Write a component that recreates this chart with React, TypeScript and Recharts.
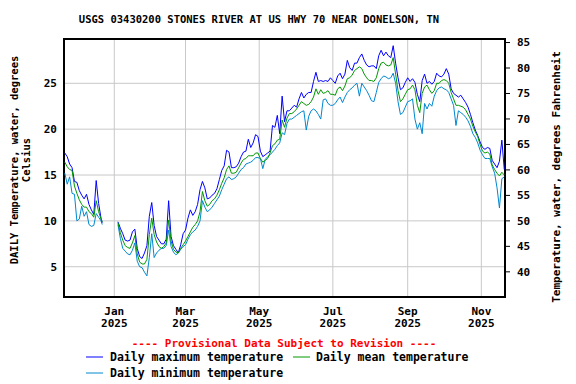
import React from 'react';
import { ComposedChart, Line, XAxis, YAxis, CartesianGrid, ReferenceArea } from 'recharts';

// day offsets from 2025-01-01 (negative = Nov/Dec 2024)
const days = [
  -41, -39, -37, -35, -33, -31, -29, -27, -25, -23, -21, -19, -17, -15, -13, -11, -10,
  -4,
  3, 5, 7, 9, 11, 13, 15, 17, 19, 21, 23, 25, 27, 29, 31, 33, 35, 37, 39, 41, 43, 45, 47, 49, 51, 53,
  55, 57, 59, 61, 63, 65, 67, 69, 71, 73, 75, 77, 79, 81, 83, 85, 87, 89, 91, 93, 95, 97, 99, 101, 103, 105,
  107, 109, 111, 113, 115, 117, 119, 121, 123, 125, 127, 129, 131, 133, 135, 137, 139, 141, 143, 145, 147, 149,
  151, 153, 155, 157, 159, 161, 163, 165, 167, 169, 171, 173, 175, 177, 179,
  181, 183, 185, 187, 189, 191, 193, 195, 197, 199, 201, 203, 205, 207, 209, 211, 213, 215, 217, 219, 221, 223,
  225, 227, 229, 231, 233, 235, 237, 239, 241, 243, 245, 247, 249, 251, 253,
  255, 257, 259, 261, 263, 265, 267, 269, 271, 273, 275, 277, 279, 281, 283, 285, 287, 289, 291, 293, 295, 297,
  299, 301, 303, 305, 307, 309, 311, 313, 315, 317, 319, 321, 323,
];

const maxT: (number | null)[] = [
  17.4, 17.0, 16.2, 15.8, 14.3, 14.2, 13.3, 12.8, 12.4, 12.9, 11.8, 11.2, 10.7, 14.4, 11.9, 10.3, 9.8,
  null,
  9.9, 9.2, 8.6, 7.9, 7.8, 7.9, 8.8, 9.1, 7.0, 6.1, 5.9, 6.5, 7.3, 10.5, 12.0, 9.5, 8.3, 7.9, 7.5, 7.5, 8.0, 12.2, 8.3, 7.3, 6.9, 6.5,
  7.4, 8.6, 9.0, 10.3, 11.2, 10.6, 11.0, 11.8, 13.4, 14.3, 13.6, 12.4, 12.5, 12.8, 13.0, 13.5, 14.5, 15.5, 16.0, 17.7, 17.5, 15.8, 15.8, 15.9, 16.3, 17.0,
  17.5, 17.6, 18.9, 18.0, 18.5, 19.4, 19.2, 17.6, 17.0, 17.2, 17.4, 17.6, 20.4, 20.2, 21.5, 19.5, 23.6, 20.8, 22.0, 22.0, 22.3, 22.6,
  22.4, 23.3, 24.0, 23.4, 23.8, 24.0, 24.0, 25.2, 26.2, 25.2, 25.3, 25.2, 25.3, 25.2, 25.6,
  25.3, 25.0, 25.8, 26.1, 25.5, 26.0, 27.5, 26.7, 26.4, 27.2, 27.2, 27.8, 28.2, 27.5, 27.0, 26.8, 26.9, 26.9, 26.6, 28.0, 28.6, 28.0,
  28.4, 28.0, 27.8, 29.1, 27.2, 25.6, 24.3, 24.5, 25.1, 25.6, 25.2, 25.5, 25.1, 23.8, 23.0,
  25.3, 26.0, 25.0, 25.2, 24.9, 25.2, 26.1, 25.8, 25.7, 26.0, 26.6, 26.0, 24.4, 23.9, 23.7, 23.5, 23.7, 23.3, 22.9, 22.4, 21.6, 20.7,
  19.9, 19.3, 18.6, 18.0, 17.8, 18.0, 17.9, 16.6, 16.2, 15.8, 16.5, 18.8, 15.6,
];

const meanT: (number | null)[] = [
  16.4, 15.9, 15.6, 15.5, 13.8, 13.0, 12.3, 11.8, 11.5, 11.5, 11.0, 10.8, 10.4, 12.2, 11.0, 10.2, 9.9,
  null,
  9.8, 8.7, 7.9, 7.3, 7.1, 7.0, 7.6, 8.4, 6.4, 5.5, 5.3, 5.3, 5.8, 8.5, 10.3, 8.5, 7.7, 7.2, 7.0, 7.2, 7.6, 10.1, 7.8, 6.9, 6.6, 6.5,
  7.0, 7.4, 7.8, 8.3, 8.8, 9.3, 9.6, 10.0, 11.0, 13.2, 12.2, 11.6, 11.8, 12.2, 12.4, 12.8, 13.4, 14.1, 14.7, 15.6, 16.0, 15.2, 15.2, 15.3, 15.8, 16.3,
  16.7, 16.8, 17.1, 17.1, 17.1, 17.4, 17.4, 16.8, 16.4, 16.6, 16.8, 17.4, 18.2, 18.4, 18.8, 18.9, 21.0, 20.2, 21.2, 21.7, 21.7, 21.9,
  22.2, 22.6, 23.0, 22.8, 22.6, 22.7, 23.0, 23.5, 24.4, 23.8, 24.3, 23.9, 24.0, 24.2, 23.8,
  23.8, 23.7, 24.4, 24.6, 24.2, 24.7, 25.5, 25.6, 25.9, 26.4, 26.6, 26.8, 26.6, 26.0, 25.6, 25.3, 25.3, 25.2, 25.6, 26.6, 27.2, 27.3,
  27.0, 26.9, 27.0, 27.8, 26.0, 24.2, 23.0, 23.3, 23.8, 24.3, 24.4, 24.8, 24.3, 22.6, 21.8,
  23.9, 24.6, 24.8, 24.3, 23.9, 24.2, 25.0, 25.0, 25.3, 25.4, 25.3, 25.0, 24.0, 23.3, 22.6, 22.6, 22.5, 22.4, 22.1, 21.6, 21.1, 20.3,
  19.7, 19.2, 18.3, 17.6, 17.4, 17.5, 17.3, 16.1, 15.6, 15.2, 14.9, 15.3, 15.0,
];

const minT: (number | null)[] = [
  15.2, 14.0, 14.8, 13.0, 12.9, 10.0, 10.2, 11.6, 10.5, 11.0, 9.6, 9.4, 9.5, 10.8, 10.4, 10.0, 9.6,
  null,
  9.6, 8.1, 7.0, 6.7, 6.4, 6.3, 6.8, 7.6, 5.6, 5.0, 4.9, 4.4, 4.0, 6.0, 8.6, 6.0, 6.5, 6.8, 7.0, 7.0, 7.3, 9.0, 7.2, 6.6, 6.3, 6.5,
  6.9, 7.2, 7.4, 8.0, 8.5, 8.8, 9.0, 9.4, 10.0, 12.2, 11.5, 11.0, 11.2, 11.5, 11.9, 12.3, 12.7, 13.4, 14.0, 14.6, 14.8, 14.5, 14.6, 14.8, 15.2, 15.6,
  15.8, 16.2, 16.3, 16.4, 16.6, 16.9, 16.9, 16.8, 15.7, 16.7, 17.0, 17.2, 17.5, 17.8, 18.2, 18.5, 19.6, 19.4, 20.6, 21.1, 21.1, 21.3,
  21.5, 21.7, 21.9, 22.0, 19.9, 21.4, 22.0, 22.2, 22.0, 21.6, 21.1, 23.2, 23.3, 22.8, 22.6,
  22.6, 22.8, 23.2, 23.5, 22.9, 23.5, 24.0, 24.3, 24.5, 24.8, 25.0, 23.6, 25.0, 24.6, 24.2, 23.7, 23.1, 23.0, 24.0, 25.1, 25.5, 25.8,
  25.7, 25.5, 25.6, 26.1, 25.0, 23.0, 21.6, 21.8, 22.4, 23.0, 23.1, 23.3, 21.1, 20.0, 20.7,
  19.5, 22.8, 22.2, 22.8, 22.5, 23.6, 24.2, 24.5, 24.6, 24.4, 24.3, 24.0, 23.3, 22.6, 20.4, 22.0, 21.8, 21.6, 21.3, 20.9, 20.3, 19.5,
  19.1, 18.5, 17.7, 17.2, 16.8, 16.8, 16.8, 15.9, 15.2, 13.6, 11.4, 14.6, 14.8,
];

const monthTicks = [0, 59, 120, 181, 243, 304];
const monthLabels = ['Jan', 'Mar', 'May', 'Jul', 'Sep', 'Nov'];
const yearLabels = ['2025', '2025', '2025', '2025', '2025', '2025'];
const celsiusTicks = [5, 10, 15, 20, 25];
const fahrenheitTicks = [40, 45, 50, 55, 60, 65, 70, 75, 80, 85];

const title = 'USGS 03430200 STONES RIVER AT US HWY 70 NEAR DONELSON, TN';
const provisional = '---- Provisional Data Subject to Revision ----';
const leftLabel1 = 'DAILY Temperature, water, degrees';
const leftLabel2 = 'Celsius';
const rightLabel = 'Temperature, water, degrees Fahrenheit';
const seriesNames = ['Daily maximum temperature', 'Daily mean temperature', 'Daily minimum temperature'];

const X_DOMAIN: [number, number] = [-41.67, 323.6];
const C_DOMAIN: [number, number] = [1.7, 29.83];
const F_DOMAIN: [number, number] = [C_DOMAIN[0] * 1.8 + 32, C_DOMAIN[1] * 1.8 + 32];

const FONT = '"DejaVu Sans Mono", monospace';
const MAX_COLOR = '#0000ff';
const MEAN_COLOR = '#009900';
const MIN_COLOR = '#0088d0';

const data = days.map((t, i) => ({ t, max: maxT[i], mean: meanT[i], min: minT[i] }));

const XTick = (props: any) => {
  const { x, y, payload } = props;
  const i = monthTicks.indexOf(payload.value);
  return (
    <g>
      <text x={x} y={y + 18} textAnchor="middle" fontFamily={FONT} fontSize={11} fontWeight="bold" fill="#000">
        {monthLabels[i]}
      </text>
      <text x={x} y={y + 30} textAnchor="middle" fontFamily={FONT} fontSize={11} fontWeight="bold" fill="#000">
        {yearLabels[i]}
      </text>
    </g>
  );
};

const tickStyle = { fontFamily: FONT, fontSize: 11, fontWeight: 'bold', fill: '#000' } as any;

export default function App() {
  return (
    <div style={{ position: 'absolute', left: 0, top: 0, width: 576, height: 384, background: '#fff' }}>
      <ComposedChart
        width={576}
        height={384}
        data={data}
        margin={{ top: 39, right: 21, bottom: 47, left: 0 }}
      >
        <CartesianGrid yAxisId="c" stroke="#c8c8c8" strokeWidth={1} />
        <XAxis
          dataKey="t"
          type="number"
          domain={X_DOMAIN}
          ticks={monthTicks}
          allowDataOverflow
          height={40}
          tickSize={0}
          tickMargin={0}
          axisLine={false}
          tickLine={false}
          tick={<XTick />}
          interval={0}
        />
        <YAxis
          yAxisId="c"
          type="number"
          domain={C_DOMAIN}
          ticks={celsiusTicks}
          allowDataOverflow
          width={64}
          tickSize={0}
          tickMargin={7}
          axisLine={false}
          tickLine={false}
          tick={tickStyle}
          interval={0}
        />
        <YAxis
          yAxisId="f"
          orientation="right"
          type="number"
          domain={F_DOMAIN}
          ticks={fahrenheitTicks}
          allowDataOverflow
          width={50}
          tickSize={5}
          tickMargin={7}
          axisLine={false}
          tickLine={{ stroke: '#000', strokeWidth: 1 }}
          tick={tickStyle}
          interval={0}
        />
        <Line yAxisId="c" dataKey="min" stroke={MIN_COLOR} strokeWidth={1} dot={false} isAnimationActive={false} connectNulls={false} />
        <Line yAxisId="c" dataKey="max" stroke={MAX_COLOR} strokeWidth={1} dot={false} isAnimationActive={false} connectNulls={false} />
        <Line yAxisId="c" dataKey="mean" stroke={MEAN_COLOR} strokeWidth={1} dot={false} isAnimationActive={false} connectNulls={false} />
        <ReferenceArea
          yAxisId="c"
          x1={X_DOMAIN[0]}
          x2={X_DOMAIN[1]}
          y1={C_DOMAIN[0]}
          y2={C_DOMAIN[1]}
          fill="none"
          fillOpacity={0}
          stroke="#000"
          strokeWidth={2}
          ifOverflow="visible"
        />
      </ComposedChart>
      <svg
        width={576}
        height={384}
        style={{ position: 'absolute', left: 0, top: 0, pointerEvents: 'none' }}
      >
        <text x={259} y={23} textAnchor="middle" fontFamily={FONT} fontSize={10.5} fontWeight="bold" fill="#000">
          {title}
        </text>
        <text
          transform="translate(14,160) rotate(-90)"
          textAnchor="middle"
          dominantBaseline="central"
          fontFamily={FONT}
          fontSize={10.5}
          fontWeight="bold"
          fill="#000"
        >
          {leftLabel1}
        </text>
        <text
          transform="translate(26,160) rotate(-90)"
          textAnchor="middle"
          dominantBaseline="central"
          fontFamily={FONT}
          fontSize={10.5}
          fontWeight="bold"
          fill="#000"
        >
          {leftLabel2}
        </text>
        <text
          transform="translate(556,177) rotate(-90)"
          textAnchor="middle"
          dominantBaseline="central"
          fontFamily={FONT}
          fontSize={11}
          fontWeight="bold"
          fill="#000"
        >
          {rightLabel}
        </text>
        <text x={284} y={347} textAnchor="middle" fontFamily={FONT} fontSize={11} fontWeight="bold" fill="#ff0000">
          {provisional}
        </text>
        <line x1={86} y1={357} x2={103} y2={357} stroke={MAX_COLOR} strokeWidth={1} />
        <text x={110} y={361} fontFamily={FONT} fontSize={11.5} fontWeight="bold" fill="#000">
          {seriesNames[0]}
        </text>
        <line x1={293} y1={357} x2={310} y2={357} stroke={MEAN_COLOR} strokeWidth={1} />
        <text x={316} y={361} fontFamily={FONT} fontSize={11.5} fontWeight="bold" fill="#000">
          {seriesNames[1]}
        </text>
        <line x1={86} y1={373} x2={103} y2={373} stroke={MIN_COLOR} strokeWidth={1} />
        <text x={110} y={377} fontFamily={FONT} fontSize={11.5} fontWeight="bold" fill="#000">
          {seriesNames[2]}
        </text>
      </svg>
    </div>
  );
}
